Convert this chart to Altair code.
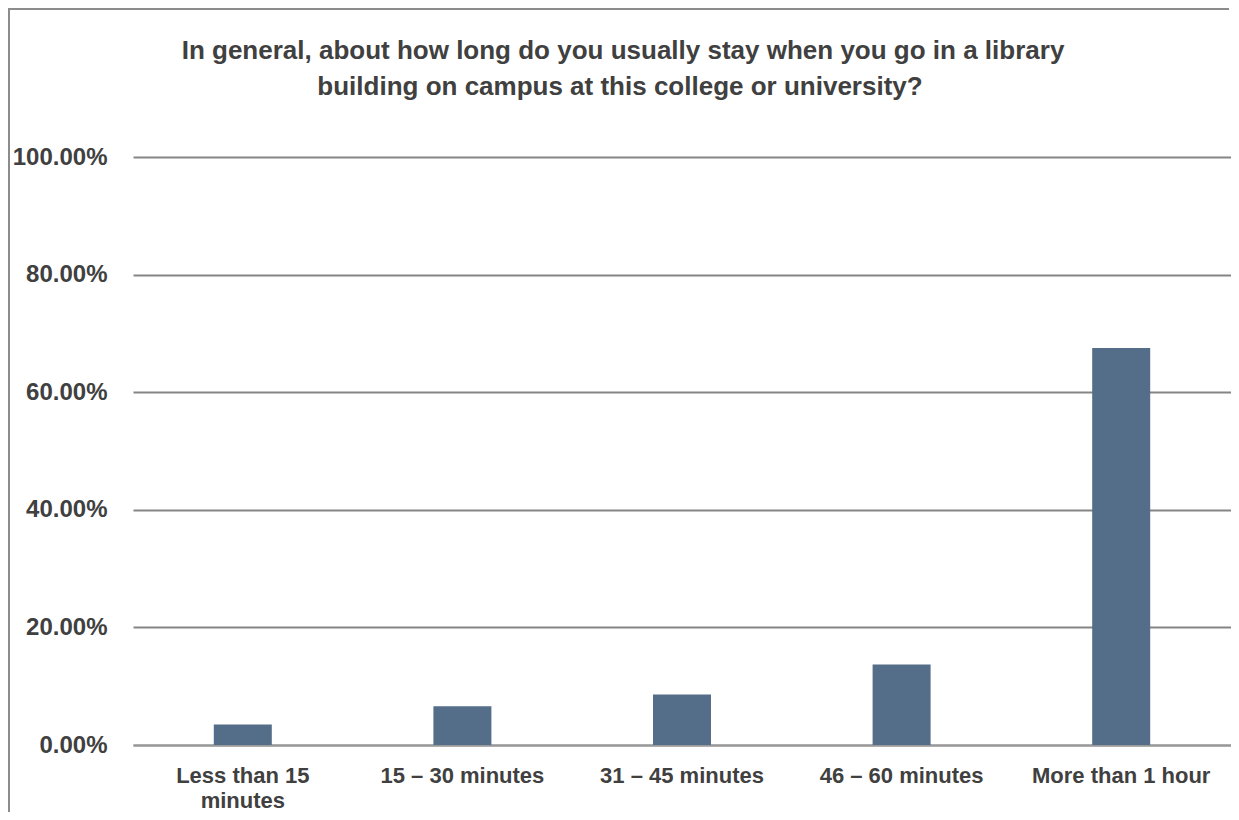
import altair as alt
import pandas as pd

categories = ["Less than 15\nminutes", "15 – 30 minutes", "31 – 45 minutes", "46 – 60 minutes", "More than 1 hour"]
values = [0.035, 0.066, 0.086, 0.137, 0.675]
title_lines = [
    "In general, about how long do you usually stay when you go in a library",
    "building on campus at this college or university?",
]

df = pd.DataFrame({"cat": categories, "val": values})

FONT = "Liberation Sans"
TXT = "#404040"

bars = alt.Chart(df).mark_bar(size=58, color="#546D88").encode(
    x=alt.X("cat:N", sort=categories, title=None,
            axis=alt.Axis(labelAngle=0, labelExpr="split(datum.label, '\\n')",
                          labelFont=FONT, labelFontSize=22, labelFontWeight="bold",
                          labelColor=TXT, labelPadding=20, labelLineHeight=25,
                          ticks=False, domainColor="#999999", domainWidth=2,
                          labelLimit=300)),
    y=alt.Y("val:Q", scale=alt.Scale(domain=[0, 1]), title=None,
            axis=alt.Axis(values=[0, 0.2, 0.4, 0.6, 0.8, 1.0], format=".2%",
                          labelFont=FONT, labelFontSize=24, labelFontWeight="bold",
                          labelColor=TXT, labelPadding=26, ticks=False, domain=False,
                          gridColor="#858585", gridWidth=2)),
)

one = alt.Data(values=[{}])
border_left = alt.Chart(one).mark_rule(color="#8c8c8c", strokeWidth=2).encode(
    x=alt.value(-124), y=alt.value(-150), y2=alt.value(660)
)
border_top = alt.Chart(one).mark_rect(color="#8c8c8c", strokeWidth=0).encode(
    x=alt.value(-125), x2=alt.value(1096), y=alt.value(-149), y2=alt.value(-147)
)
title1 = alt.Chart(one).mark_text(font=FONT, fontSize=26, fontWeight="bold", color=TXT,
                                  align="center", baseline="alphabetic").encode(
    x=alt.value(490), y=alt.value(-98), text=alt.value(title_lines[0])
)
title2 = alt.Chart(one).mark_text(font=FONT, fontSize=26, fontWeight="bold", color=TXT,
                                  align="center", baseline="alphabetic").encode(
    x=alt.value(487), y=alt.value(-62), text=alt.value(title_lines[1])
)

chart = alt.layer(border_left, border_top, bars, title1, title2).properties(
    width=1098, height=588,
    autosize=alt.AutoSizeParams(type="none"),
    padding={"left": 125, "top": 149, "right": 0, "bottom": 67},
).configure_view(stroke=None)

chart.save("out.html", embed_options={"renderer": "svg", "actions": False})
